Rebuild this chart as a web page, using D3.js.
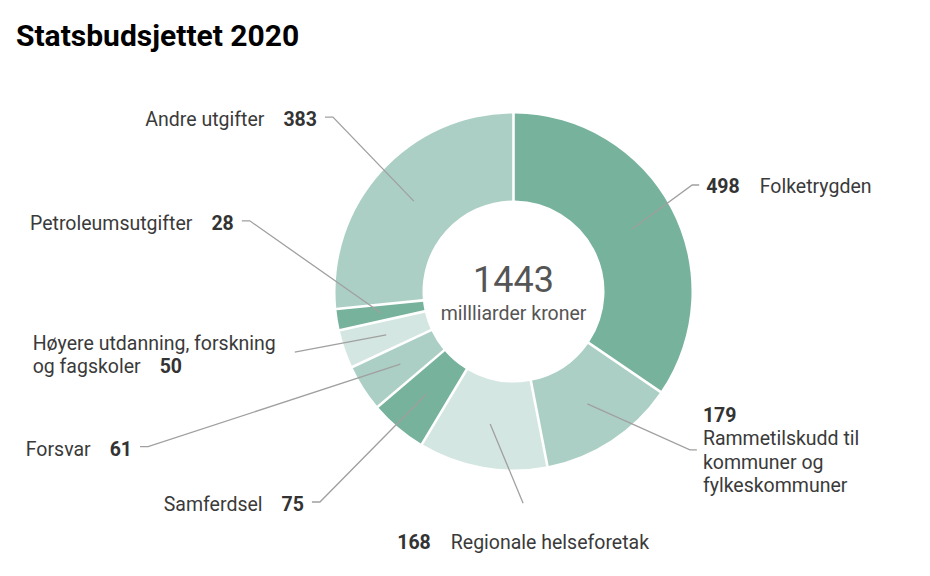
<!DOCTYPE html>
<html>
<head>
<meta charset="utf-8">
<script src="https://cdn.jsdelivr.net/npm/d3@7"></script>
<style>
  body { margin: 0; background: #fff; }
  text { font-family: Roboto, "Noto Sans", sans-serif; }
</style>
</head>
<body>
<svg id="chart" width="930" height="576"></svg>
<script>
// Statsbudsjettet 2020, milliarder kroner
const categories = [
  'Folketrygden',
  'Rammetilskudd til kommuner og fylkeskommuner',
  'Regionale helseforetak',
  'Samferdsel',
  'Forsvar',
  'Høyere utdanning, forskning og fagskoler',
  'Petroleumsutgifter',
  'Andre utgifter'
];
const values = [498, 179, 168, 75, 61, 50, 28, 383];
const total = 1443;
const centerLabel = 'millliarder kroner';

const palette = ['#77b29c', '#abcfc4', '#d4e6e1'];

// elbow of each leader line, polar around the donut centre (degrees, px)
const labelLayout = [
  { a: 59.2, r: 208, side: 'right' },
  { a: 131.9, r: 237, side: 'right', wrap: 172, valueOnTop: true },
  { a: 177.4, r: 212, side: 'below' },
  { a: 222.6, r: 286, side: 'left' },
  { a: 247.0, r: 397, side: 'left' },
  { a: 254.5, r: 227, side: 'left', wrap: 262, noTick: true },
  { a: 285.0, r: 273, side: 'left' },
  { a: 314.0, r: 251, side: 'left' }
];

const cx = 513.5, cy = 291.5;
const outer = 178, inner = 91;
const fontSize = 19.5;
const lineH = 23.5;

const svg = d3.select('#chart');

svg.append('text')
  .attr('x', 16)
  .attr('y', 46)
  .attr('font-size', 30)
  .attr('font-weight', 700)
  .attr('fill', '#000')
  .text('Statsbudsjettet 2020');

const g = svg.append('g').attr('transform', `translate(${cx},${cy})`);

const pie = d3.pie().sort(null).value((d) => d.value);
const arc = d3.arc().innerRadius(inner).outerRadius(outer).padAngle(0.013);
const mid = d3.arc().innerRadius((inner + outer) / 2).outerRadius((inner + outer) / 2);

const slices = pie(categories.map((name, i) => ({ name, value: values[i], layout: labelLayout[i] })));

g.selectAll('path.slice')
  .data(slices)
  .enter()
  .append('path')
  .attr('class', 'slice')
  .attr('d', arc)
  .attr('fill', (d, i) => palette[i % palette.length]);

// centre
g.append('text')
  .attr('text-anchor', 'middle')
  .attr('y', 0.5)
  .attr('font-size', 36)
  .attr('fill', '#555')
  .text(total);
g.append('text')
  .attr('text-anchor', 'middle')
  .attr('y', 28.5)
  .attr('font-size', fontSize)
  .attr('fill', '#555')
  .text(centerLabel);

// word wrap using a throwaway text node for measuring
const probe = g.append('text').attr('font-size', fontSize).attr('visibility', 'hidden');
function textWidth(s) {
  probe.text(s);
  return probe.node().getComputedTextLength();
}
function wrap(str, max) {
  const words = str.split(' ');
  const lines = [];
  let line = words.shift();
  words.forEach((w) => {
    if (textWidth(line + ' ' + w) <= max) line += ' ' + w;
    else { lines.push(line); line = w; }
  });
  lines.push(line);
  return lines;
}

const labels = g.selectAll('g.label')
  .data(slices)
  .enter()
  .append('g')
  .attr('class', 'label');

labels.each(function(d) {
  const el = d3.select(this);
  const L = d.data.layout;
  const start = mid.centroid(d);
  const elbow = d3.pointRadial(L.a * Math.PI / 180, L.r);
  const pts = [start, elbow];
  if (!L.noTick && L.side === 'right') pts.push([elbow[0] + 7, elbow[1]]);
  if (!L.noTick && L.side === 'left') pts.push([elbow[0] - 8, elbow[1]]);

  el.append('path')
    .attr('d', d3.line()(pts))
    .attr('fill', 'none')
    .attr('stroke', '#a0a0a0')
    .attr('stroke-width', 1.3);

  const text = el.append('text')
    .attr('font-size', fontSize)
    .attr('fill', '#3a3a3a');

  const value = (t) => t.append('tspan').attr('font-weight', 700).attr('fill', '#333').text(d.data.value);

  if (L.side === 'below') {
    text.attr('text-anchor', 'middle').attr('x', elbow[0]).attr('y', elbow[1] + 46);
    value(text);
    text.append('tspan').attr('dx', 20).text(d.data.name);
  } else if (L.side === 'right' && L.valueOnTop) {
    const x = elbow[0] + 13;
    text.attr('x', x).attr('y', elbow[1] - 28);
    value(text).attr('x', x);
    wrap(d.data.name, L.wrap).forEach((line) => {
      text.append('tspan').attr('x', x).attr('dy', lineH).text(line);
    });
  } else if (L.side === 'right') {
    text.attr('x', elbow[0] + 14).attr('y', elbow[1] + 8);
    value(text);
    text.append('tspan').attr('dx', 20).text(d.data.name);
  } else if (L.wrap) {
    // left-aligned block whose right edge sits next to the line end
    const lines = wrap(d.data.name, L.wrap);
    text.attr('y', elbow[1] - 2);
    lines.forEach((line, i) => {
      text.append('tspan').attr('x', 0).attr('dy', i ? lineH - 1 : 0).text(line);
      if (i === lines.length - 1) value(text).attr('dx', 19);
    });
    const w = text.node().getBBox().width;
    text.attr('transform', `translate(${elbow[0] - 19 - w},0)`);
  } else {
    text.attr('text-anchor', 'end').attr('x', elbow[0] - 16).attr('y', elbow[1] + 9);
    text.append('tspan').text(d.data.name);
    value(text).attr('dx', 19);
  }
});

probe.remove();
</script>
</body>
</html>
